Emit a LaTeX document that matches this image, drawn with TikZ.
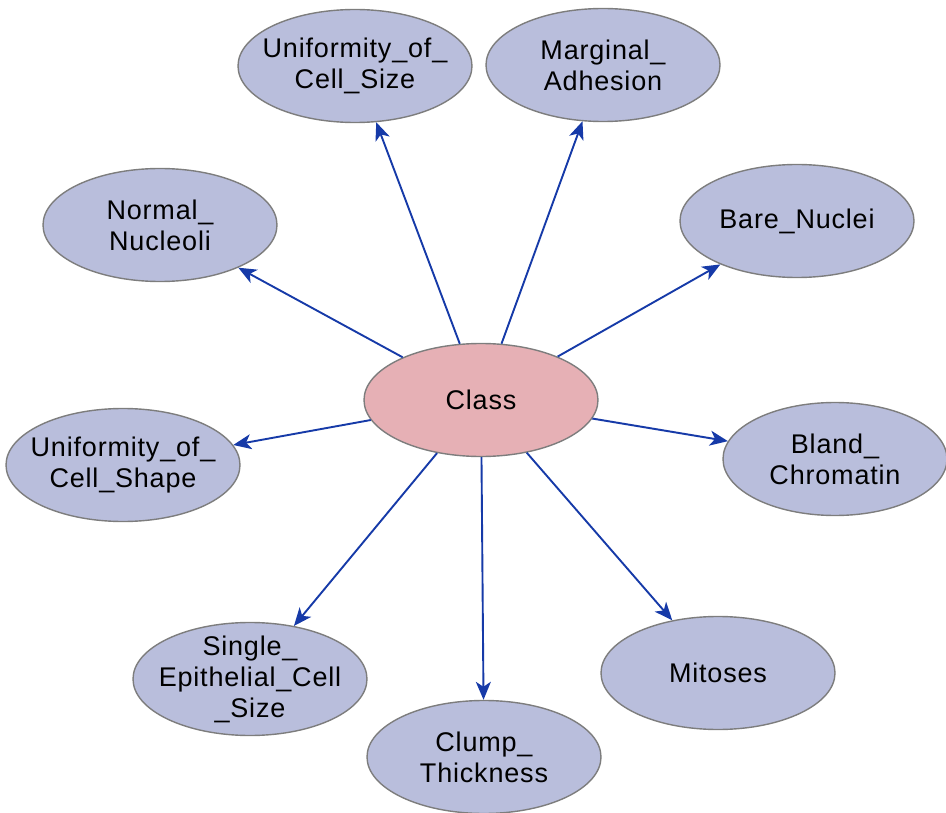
\documentclass[tikz,border=0pt]{standalone}
\usepackage{fontspec}
\setmainfont[LetterSpace=3]{Liberation Sans}
\usetikzlibrary{shapes.geometric,arrows.meta}
\definecolor{attrfill}{RGB}{185,190,220}
\definecolor{classfill}{RGB}{230,176,181}
\definecolor{nodeline}{RGB}{125,125,125}
\definecolor{edgeblue}{RGB}{22,58,168}

\begin{document}
\begin{tikzpicture}[x=1pt,y=-1pt,
    attr/.style={ellipse,draw=nodeline,line width=1.4pt,fill=attrfill,minimum width=234pt,minimum height=113pt,inner xsep=-14pt,inner ysep=-10pt,align=center,font=\fontsize{27}{31}\selectfont},
    target/.style={attr,fill=classfill},
    dep/.style={edgeblue,line width=1.9pt,-{Stealth[length=18pt,width=15pt,inset=5pt]}}]
    \useasboundingbox (0,0) rectangle (946,813);
            \node[target] (class) at (481,400) {Class};
            \node[attr] (ucsize) at (355,66) {Uniformity\_of\_\\Cell\_Size};
            \node[attr] (madhesion) at (603,65) {Marginal\_\\Adhesion};
            \node[attr] (nnucleoli) at (160,225) {Normal\_\\Nucleoli};
            \node[attr] (bnuclei) at (797,221) {Bare\_Nuclei};
            \node[attr] (ucshape) at (123,465) {Uniformity\_of\_\\Cell\_Shape};
            \node[attr,minimum width=224pt] (bchromatin) at (835,459) {Bland\_\\Chromatin};
            \node[attr] (secsize) at (250,679) {Single\_\\Epithelial\_Cell\\\_Size};
            \node[attr] (cthickness) at (484,757) {Clump\_\\Thickness};
            \node[attr] (mitoses) at (718,673) {Mitoses};
            % arcs from the class node
            \foreach \child in {ucsize,madhesion,nnucleoli,bnuclei,ucshape,bchromatin,secsize,cthickness,mitoses}
                \draw[dep] (class) -- (\child);
        \end{tikzpicture}
\end{document}
